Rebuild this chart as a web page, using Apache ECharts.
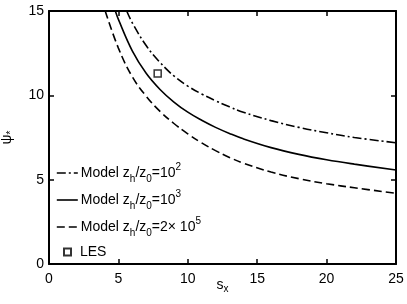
<!DOCTYPE html>
<html><head><meta charset="utf-8">
<script src="https://cdn.jsdelivr.net/npm/echarts@6/dist/echarts.min.js"></script>
<style>html,body{margin:0;padding:0;background:#fff}#c{width:407px;height:304px}</style>
</head><body><div id="c"></div>
<script>
// Model z_h/z_0 = 10^2 (dash-dot)
const sDashDot   = [5.6, 6, 7, 8, 9, 10, 11, 12, 13, 14, 16, 18, 20, 22, 25];
const psiDashDot = [15.0, 14.3, 12.95, 11.95, 11.15, 10.55, 10.08, 9.68, 9.32, 9.0, 8.5, 8.1, 7.78, 7.5, 7.19];
// Model z_h/z_0 = 10^3 (solid)
const sSolid     = [4.78, 5, 6, 7, 8, 9, 10, 11, 12, 13, 14, 16, 18, 20, 22, 25];
const psiSolid   = [15.0, 14.5, 12.64, 11.31, 10.35, 9.6, 9.0, 8.52, 8.1, 7.74, 7.42, 6.9, 6.5, 6.18, 5.92, 5.57];
// Model z_h/z_0 = 2x10^5 (dashed)
const sDashed    = [4.05, 5, 6, 7, 8, 9, 10, 11, 12, 13, 14, 16, 18, 20, 22, 25];
const psiDashed  = [15.0, 12.8, 11.1, 9.95, 9.05, 8.33, 7.72, 7.18, 6.72, 6.32, 5.98, 5.45, 5.06, 4.76, 4.52, 4.19];
// LES point
const sLES   = [7.83];
const psiLES = [11.3];
// axes
const xMin = 0, xMax = 25, xStep = 5;
const yMin = 0, yMax = 15, yStep = 5;

const FONT = 'Liberation Sans';
const zip = (a, b) => a.map((v, i) => [v, b[i]]);

const legendLabels = {
  m2: '{t|Model z}{sub|h}{t|/z}{sub|0}{t|=10}{sup|2}',
  m3: '{t|Model z}{sub|h}{t|/z}{sub|0}{t|=10}{sup|3}',
  m5: '{t|Model z}{sub|h}{t|/z}{sub|0}{t|=2\u00d7 10}{sup|5}'
};
const rich = {
  t:   { fontSize: 14, fontFamily: FONT, color: '#000', lineHeight: 22 },
  sub: { fontSize: 10, fontFamily: FONT, color: '#000', lineHeight: 10, verticalAlign: 'bottom' },
  sup: { fontSize: 10, fontFamily: FONT, color: '#000', lineHeight: 10, verticalAlign: 'top' }
};

const axisLine = { show: true, onZero: false, lineStyle: { color: '#000', width: 2 } };
const axisTick = { show: true, inside: true, length: 5, lineStyle: { color: '#000', width: 1.5 } };

const chart = echarts.init(document.getElementById('c'), null, { renderer: 'canvas' });
chart.setOption({
  animation: false,
  backgroundColor: '#fff',
  grid: { left: 49, right: 11, top: 11, bottom: 40, containLabel: false, outerBoundsMode: 'none' },
  xAxis: [{
    type: 'value', min: xMin, max: xMax, interval: xStep,
    axisLine, axisTick, splitLine: { show: false },
    axisLabel: { color: '#000', fontSize: 14, fontFamily: FONT, margin: 8 },
    name: '{t|s}{sub|x}', nameLocation: 'middle', nameGap: 12, nameMoveOverlap: false,
    nameTextStyle: { rich: {
      t: { fontSize: 14, fontFamily: FONT, color: '#000', lineHeight: 18 },
      sub: { fontSize: 10, fontFamily: FONT, color: '#000', lineHeight: 8, verticalAlign: 'bottom' } } }
  }, {
    type: 'value', position: 'top', min: xMin, max: xMax, interval: xStep,
    axisLine, axisTick, axisLabel: { show: false }, splitLine: { show: false }
  }],
  yAxis: [{
    type: 'value', min: yMin, max: yMax, interval: yStep,
    axisLine, axisTick, splitLine: { show: false },
    axisLabel: { color: '#000', fontSize: 14, fontFamily: FONT, margin: 5 },
    name: '{t|\u03c8}{sub|*}', nameLocation: 'middle', nameGap: 33, nameMoveOverlap: false,
    nameTextStyle: { rich: {
      t: { fontSize: 14, fontFamily: FONT, color: '#000', lineHeight: 18 },
      sub: { fontSize: 10, fontFamily: FONT, color: '#000', lineHeight: 8, verticalAlign: 'bottom' } } }
  }, {
    type: 'value', position: 'right', min: yMin, max: yMax, interval: yStep,
    axisLine, axisTick, axisLabel: { show: false }, splitLine: { show: false }
  }],
  legend: [{
    data: ['m2', 'm3', 'm5'], orient: 'vertical', left: 51, top: 157,
    itemWidth: 21, itemHeight: 0.1, itemGap: 5, selectedMode: false,
    lineStyle: { width: 1.6 },
    formatter: n => legendLabels[n],
    textStyle: { color: '#000', fontSize: 14, fontFamily: FONT, padding: [0, 0, 0, -2], rich }
  }, {
    data: ['LES'], orient: 'vertical', left: 58, top: 240,
    itemWidth: 7, itemHeight: 7, icon: 'rect', selectedMode: false,
    textStyle: { color: '#000', fontSize: 14, fontFamily: FONT, padding: [0, 0, 0, 4] }
  }],
  series: [{
    name: 'm2', type: 'line', data: zip(sDashDot, psiDashDot), smooth: 0.4,
    showSymbol: false, symbol: 'none', clip: true,
    lineStyle: { color: '#000', width: 1.6, type: [9, 3, 2, 3] }, itemStyle: { color: '#000' }
  }, {
    name: 'm3', type: 'line', data: zip(sSolid, psiSolid), smooth: 0.4,
    showSymbol: false, symbol: 'none', clip: true,
    lineStyle: { color: '#000', width: 1.6, type: 'solid' }, itemStyle: { color: '#000' }
  }, {
    name: 'm5', type: 'line', data: zip(sDashed, psiDashed), smooth: 0.4,
    showSymbol: false, symbol: 'none', clip: true,
    lineStyle: { color: '#000', width: 1.6, type: [8, 4] }, itemStyle: { color: '#000' }
  }, {
    name: 'LES', type: 'scatter', data: zip(sLES, psiLES), symbol: 'rect', symbolSize: 7,
    itemStyle: { color: '#fff', borderColor: '#000', borderWidth: 1.5 }
  }]
});
</script></body></html>
